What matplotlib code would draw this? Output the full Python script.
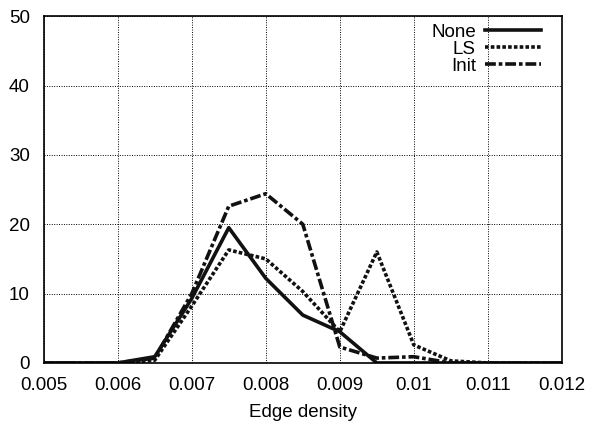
import matplotlib
matplotlib.use("Agg")
import matplotlib.pyplot as plt

plt.rcParams['font.family'] = ['Liberation Sans', 'DejaVu Sans']

# edge density bins
x = [0.005, 0.0055, 0.006, 0.0065, 0.007, 0.0075, 0.008, 0.0085,
     0.009, 0.0095, 0.01, 0.0105, 0.011, 0.0115, 0.012]
none_vals = [0, 0, 0, 0.9, 9.3, 19.5, 12.2, 6.9, 4.5, 0, 0, 0, 0, 0, 0]
ls_vals = [0, 0, 0, 0.4, 8.2, 16.3, 15.0, 10.3, 4.5, 16.0, 2.6, 0.3, 0, 0, 0]
init_vals = [0, 0, 0, 0.7, 10.0, 22.6, 24.4, 20.0, 2.3, 0.7, 0.9, 0, 0, 0, 0]

fig = plt.figure(figsize=(5.99, 4.25), dpi=100)
ax = fig.add_axes([0.073, 0.146, 0.865, 0.816])

ax.plot(x, none_vals, color='#111111', lw=2.6, linestyle='-', label='None')
ax.plot(x, ls_vals, color='#111111', lw=2.6, linestyle=(0, (1.0, 0.6)), label='LS')
ax.plot(x, init_vals, color='#111111', lw=2.6, linestyle=(0, (3.0, 0.8, 1.0, 0.8)), label='Init')

ax.set_xlim(0.005, 0.012)
ax.set_ylim(0, 50)
ax.set_xticks([0.005, 0.006, 0.007, 0.008, 0.009, 0.01, 0.011, 0.012])
ax.set_xticklabels(['0.005', '0.006', '0.007', '0.008', '0.009', '0.01', '0.011', '0.012'])
ax.set_yticks([0, 10, 20, 30, 40, 50])
ax.tick_params(labelsize=13.5, direction='in', length=0, width=1)
ax.tick_params(axis='x', pad=10)
ax.tick_params(axis='y', pad=10)
ax.grid(True, color='black', linestyle=(0, (1, 1.5)), linewidth=0.7)
for s in ax.spines.values():
    s.set_linewidth(1.2)
ax.set_xlabel('Edge density', fontsize=13.5, labelpad=7)

ax.legend(loc='upper right', frameon=False, markerfirst=False, fontsize=13.5,
          handlelength=3.0, labelspacing=0.0, borderaxespad=0.2,
          handletextpad=0.5, borderpad=0.2, bbox_to_anchor=(0.975, 1.0))
for t in ax.get_legend().get_texts():
    t.set_ha('right')

fig.savefig('out.png', dpi=100)
